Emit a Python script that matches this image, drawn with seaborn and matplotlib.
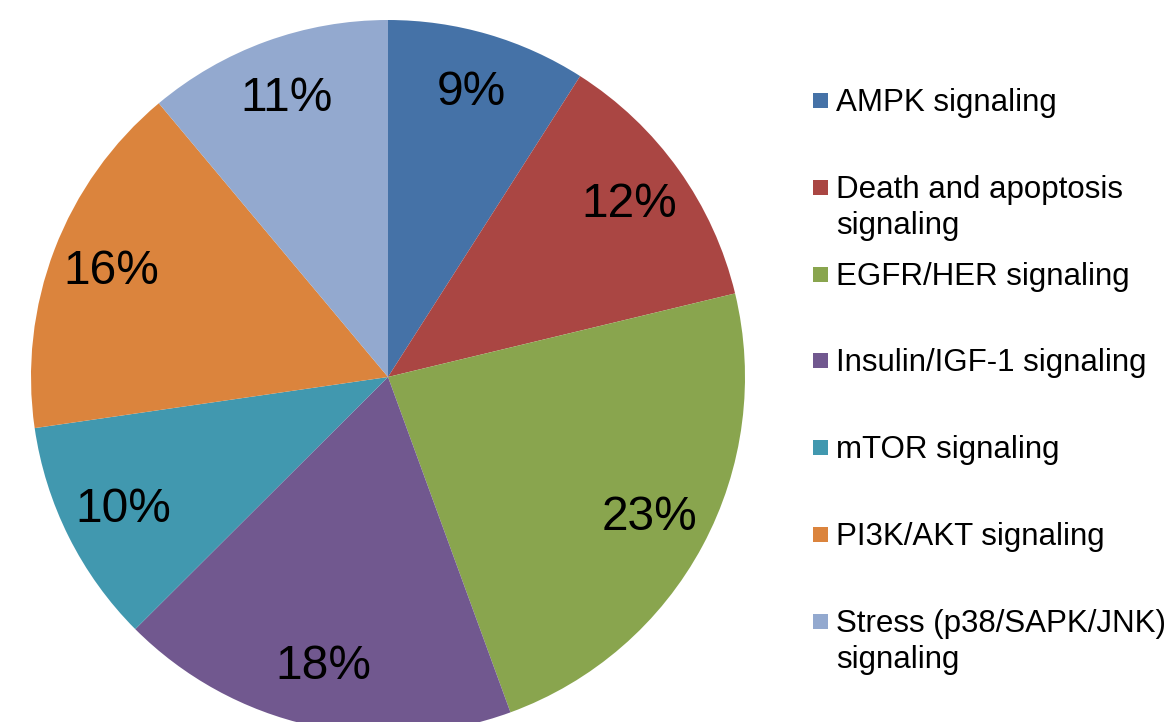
import matplotlib
matplotlib.use("Agg")
import matplotlib.pyplot as plt
from matplotlib.patches import Rectangle
import seaborn as sns

# pathway share of hits (clockwise from 12 o'clock)
categories = [
    "AMPK signaling",
    "Death and apoptosis\nsignaling",
    "EGFR/HER signaling",
    "Insulin/IGF-1 signaling",
    "mTOR signaling",
    "PI3K/AKT signaling",
    "Stress (p38/SAPK/JNK)\nsignaling",
]
shares = [9.05, 12.2, 23.2, 18.1, 10.2, 16.2, 11.1]
slice_colors = ["#4572A7", "#AA4643", "#89A54E", "#71588F",
                "#4198AF", "#DB843D", "#93A9CF"]

sns.set_style("white")
plt.rcParams["font.family"] = ["Liberation Sans", "DejaVu Sans"]

W, H = 1172, 722
fig = plt.figure(figsize=(W / 100, H / 100), dpi=100)
ax = fig.add_axes([0, 0, 1, 1])
palette = sns.color_palette(slice_colors)

wedges, texts, autotexts = ax.pie(
    shares,
    colors=palette,
    startangle=90,
    counterclock=False,
    center=(388, H - 377),
    radius=357,
    autopct="%.0f%%",
    pctdistance=0.83,
    wedgeprops={"linewidth": 0},
    textprops={"fontsize": 34.5, "color": "black"},
)

ax.set_xlim(0, W)
ax.set_ylim(0, H)
ax.set_aspect("equal")
ax.axis("off")

# legend drawn by hand so the marker sits on the first line of wrapped labels
step = 86.8
line_gap = 36
for i, (lab, col) in enumerate(zip(categories, palette)):
    base = 111 + i * step
    ax.add_patch(Rectangle((813, H - base + 3), 15, 15, facecolor=col,
                           edgecolor="none", clip_on=False))
    for j, line in enumerate(lab.split("\n")):
        ax.text(836, H - base - j * line_gap, line, fontsize=22.5,
                va="baseline", ha="left", color="black")

fig.savefig("out.png", dpi=100)
